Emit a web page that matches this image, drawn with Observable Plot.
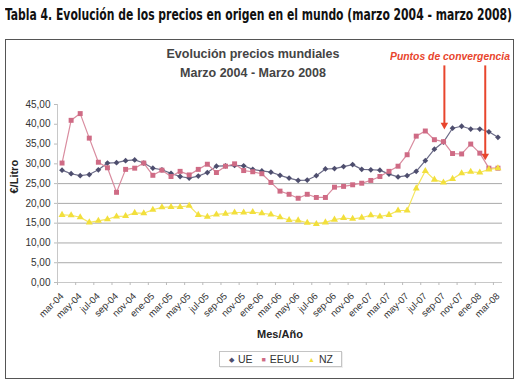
<!DOCTYPE html>
<html><head><meta charset="utf-8">
<script src="https://cdn.jsdelivr.net/npm/d3@7"></script>
<script src="https://cdn.jsdelivr.net/npm/@observablehq/plot@0.6"></script>
<style>
body{margin:0;width:520px;height:388px;background:#fff;font-family:"Liberation Sans",Arial,sans-serif;position:relative;overflow:hidden}
.abs{position:absolute;white-space:nowrap}
#heading{left:5px;top:7px;font-family:"Liberation Sans Narrow","DejaVu Sans Condensed","Liberation Sans",sans-serif;font-weight:bold;font-size:15px;line-height:17px;color:#111;transform-origin:left top}
#box{left:5px;top:39px;width:507px;height:338px;border:1px solid #555}
.ctitle{left:153px;width:200px;text-align:center;font-weight:bold;font-size:12.5px;line-height:14px;color:#444}
#puntos{left:390px;top:50px;font-weight:bold;font-style:italic;font-size:11px;line-height:13px;color:#e8452d;transform-origin:left top}
#chart{left:0;top:40px}
#legend{left:219px;top:351px;width:121px;height:14px;border:1px solid #c4c4c4;box-shadow:1px 1px 0 #eee;font-size:10.5px;line-height:14px;color:#333}
#legend span.m{font-size:7px;vertical-align:1px;margin-right:4px}
#legend span.it{margin-left:9px}
</style></head>
<body>
<div id="heading" class="abs">Tabla 4. Evolución de los precios en origen en el mundo (marzo 2004 - marzo 2008)</div>
<div id="box" class="abs"></div>
<div class="abs ctitle" style="top:47px">Evolución precios mundiales</div>
<div class="abs ctitle" style="top:66px">Marzo 2004 - Marzo 2008</div>
<div id="puntos" class="abs">Puntos de convergencia</div>
<div id="chart" class="abs"></div>
<div id="legend" class="abs"></div>
<script>
const months = ["mar-04","abr-04","may-04","jun-04","jul-04","ago-04","sep-04","oct-04","nov-04","dic-04",
  "ene-05","feb-05","mar-05","abr-05","may-05","jun-05","jul-05","ago-05","sep-05","oct-05","nov-05","dic-05",
  "ene-06","feb-06","mar-06","abr-06","may-06","jun-06","jul-06","ago-06","sep-06","oct-06","nov-06","dic-06",
  "ene-07","feb-07","mar-07","abr-07","may-07","jun-07","jul-07","ago-07","sep-07","oct-07","nov-07","dic-07",
  "ene-08","feb-08","mar-08"];
const ue = [28.4,27.5,27.0,27.3,28.5,30.2,30.3,30.8,31.0,30.2,28.9,28.5,27.6,26.8,26.4,26.9,27.8,29.4,29.5,29.6,
  29.5,28.6,28.2,27.9,27.1,26.4,25.8,25.9,27.0,28.7,28.8,29.3,29.8,28.6,28.5,28.4,27.4,26.7,27.0,28.1,
  30.8,33.7,35.5,39.0,39.5,38.8,38.8,38.1,36.7];
const eeuu = [30.2,41.0,42.7,36.5,30.4,29.0,22.8,28.6,28.9,30.2,27.1,28.4,26.8,28.1,27.2,28.6,29.9,27.8,29.4,30.0,
  28.3,28.0,27.5,25.3,23.1,22.3,21.3,22.3,21.5,21.5,24.1,24.3,24.7,25.1,25.8,26.8,28.1,29.4,32.3,37.0,
  38.3,36.1,35.6,32.6,32.5,35.0,32.7,28.9,28.9];
const nz = [17.1,17.0,16.5,15.2,15.6,16.0,16.7,16.8,17.6,17.5,18.4,19.0,19.1,19.1,19.4,17.1,16.6,17.2,17.4,17.7,
  17.7,17.8,17.5,17.2,16.5,15.8,15.7,15.1,14.8,15.2,15.9,16.3,16.1,16.4,17.0,16.7,17.1,18.2,18.2,23.8,
  28.2,26.0,25.3,26.2,27.6,28.0,27.8,28.6,28.9];
const seriesNames = ["UE","EEUU","NZ"];
const seriesColors = ["#4e4e6e","#cf6b85","#f2df3c"];
const lineColors = ["#6c6c88","#d98c9f","#f5e660"];
const seriesSymbols = ["diamond2","square","triangle"];
const seriesRadius = [2.6,2.8,2.6];
const legendGlyphs = ["◆","■","▲"];
const yTicks = [0,5,10,15,20,25,30,35,40,45];
const gridValues = [5,10,15,20,25];
const labelIdx = d3.range(0, months.length, 2);
const boundaries = d3.range(-0.5, months.length - 1, 2);
// convergence arrows: category position, start value (above the frame) and tip value
const arrows = [{i: 42.1, from: 54.0, to: 38.8}, {i: 46.6, from: 54.0, to: 31.0}];

const allSeries = [ue, eeuu, nz];
const data = [];
allSeries.forEach((vals, s) => vals.forEach((v, i) => data.push({i, v, s: seriesNames[s]})));

const marks = [
  Plot.ruleY(gridValues, {stroke: "#a9a9a9"}),
  Plot.ruleY([0], {stroke: "#c8c8c8"}),
  Plot.ruleX([-0.5], {y1: 0, y2: 45, stroke: "#c8c8c8"}),
  Plot.axisY({ticks: yTicks, tickFormat: d => d.toFixed(2).replace(".", ","), tickSize: 3, tickPadding: 4,
    stroke: "#bbb", fill: "#333", fontSize: 10, label: null}),
  Plot.axisX({ticks: boundaries, tickFormat: () => "", tickSize: 3, stroke: "#bbb", label: null}),
  Plot.axisX({ticks: labelIdx, tickFormat: i => months[i], tickSize: 0, tickPadding: 12, tickRotate: -45,
    fill: "#333", fontSize: 9.5, label: null}),
  Plot.text(["€/Litro"], {text: d => d, frameAnchor: "left", dx: -43, rotate: -90, fontWeight: "bold", fontSize: 11, fill: "#222"}),
  Plot.text(["Mes/Año"], {text: d => d, frameAnchor: "bottom", dy: 55, fontWeight: "bold", fontSize: 11, fill: "#222"})
];
seriesNames.forEach((name, s) => {
  const d = data.filter(r => r.s === name);
  marks.push(Plot.line(d, {x: "i", y: "v", stroke: lineColors[s], strokeWidth: 1.2}));
});
seriesNames.forEach((name, s) => {
  const d = data.filter(r => r.s === name);
  marks.push(Plot.dot(d, {x: "i", y: "v", symbol: seriesSymbols[s], r: seriesRadius[s], fill: seriesColors[s], stroke: "none"}));
});
marks.push(Plot.ruleX(arrows, {x: "i", y1: "from", y2: "to", stroke: "#e8452d", strokeWidth: 2, dy: -3}));
marks.push(Plot.dot(arrows, {x: "i", y: "to", symbol: "triangle", rotate: 180, r: 2.8, fill: "#e8452d", stroke: "none", dy: -4}));

const plot = Plot.plot({
  width: 520, height: 300,
  marginLeft: 57, marginRight: 18, marginTop: 64, marginBottom: 58,
  style: {background: "transparent", fontFamily: "'Liberation Sans', Arial, sans-serif", overflow: "visible"},
  x: {domain: [-0.5, 48.5]},
  y: {domain: [0, 45]},
  marks
});
document.getElementById("chart").appendChild(plot);

const legend = document.getElementById("legend");
seriesNames.forEach((name, s) => {
  const it = document.createElement("span");
  it.className = "it";
  it.innerHTML = `<span class="m" style="color:${seriesColors[s]}">${legendGlyphs[s]}</span>${name}`;
  legend.appendChild(it);
});

function fit(id, w) {
  const el = document.getElementById(id);
  const r = el.getBoundingClientRect().width;
  el.style.transform = `scaleX(${w / r})`;
}
fit("heading", 507);
fit("puntos", 120);
</script>
</body></html>
